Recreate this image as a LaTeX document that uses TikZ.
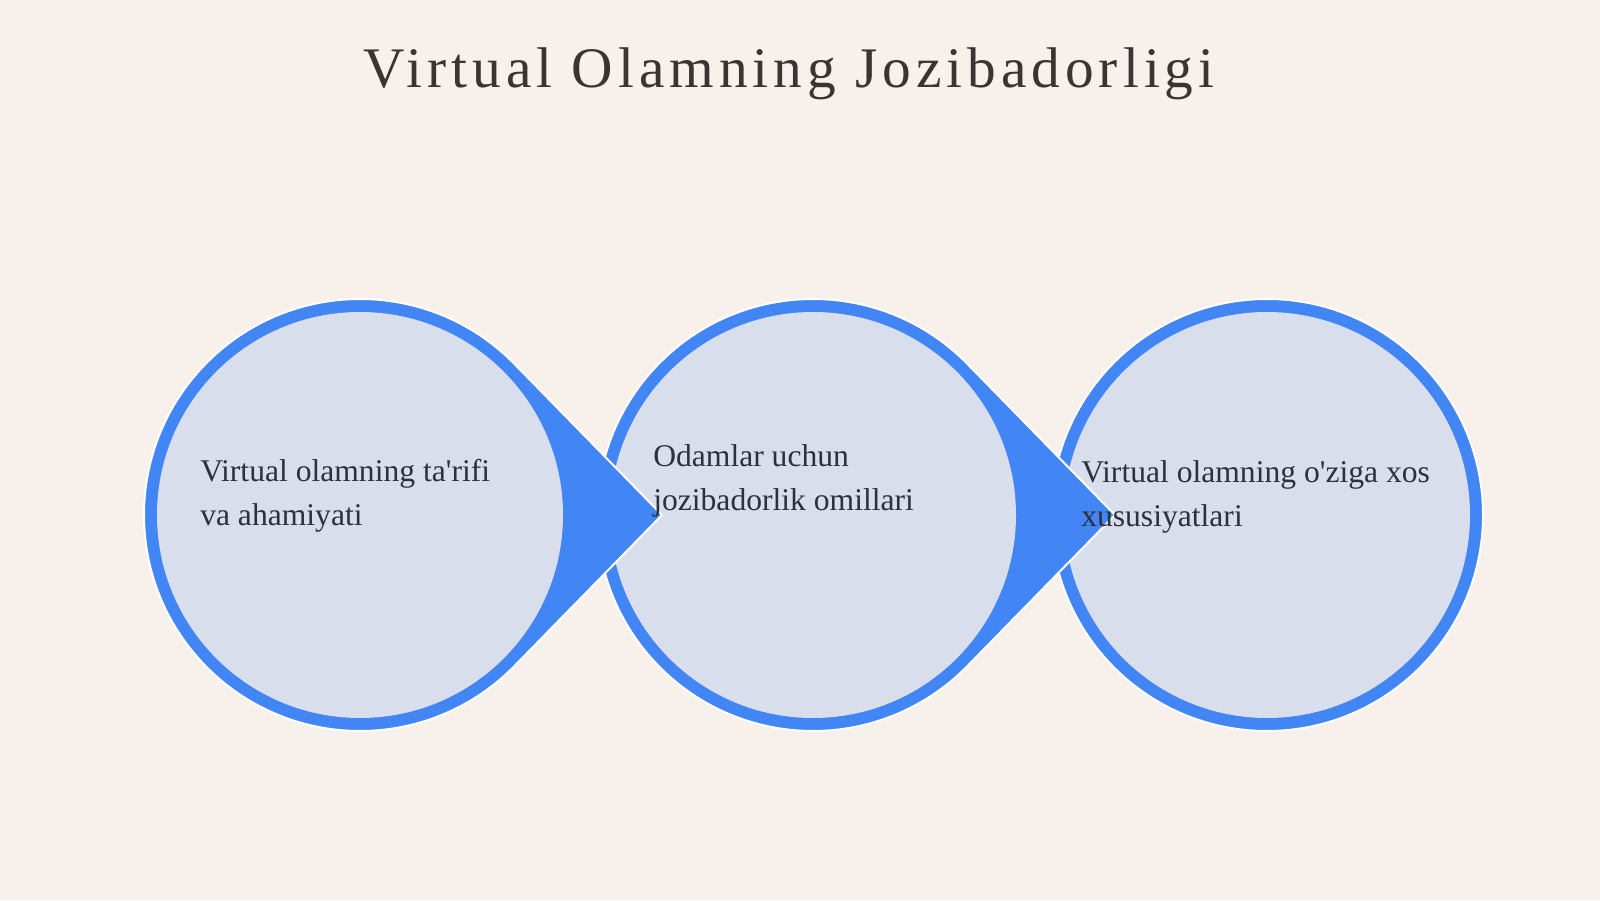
\documentclass[tikz,border=0pt]{standalone}
\usepackage{fontspec}
\setmainfont{Liberation Serif}
\newfontfamily\titlefont[LetterSpace=8.7]{Liberation Serif}
\usetikzlibrary{calc}

\definecolor{bgpaper}{HTML}{F8F0EB}
\definecolor{ringblue}{HTML}{4285F4}
\definecolor{discfill}{HTML}{D8DEEC}
\definecolor{inktext}{HTML}{2E313B}
\definecolor{inktitle}{HTML}{3A3534}

\tikzset{
	steptext/.style={anchor=base west,align=left,inner sep=0pt,text=inktext,font=\fontsize{23.7}{33}\selectfont},
	drop/.style={fill=ringblue,draw=white,line width=1.5pt,line join=miter},
}

\begin{document}
\begin{tikzpicture}[x=0.75pt,y=0.75pt]
				\fill[bgpaper] (0,0) rectangle (1600,900);
				\useasboundingbox (0,0) rectangle (1600,900);

				\node[anchor=base,text=inktitle,font=\titlefont\fontsize{43}{50}\selectfont] (title) at (789,812) {Virtual Olamning Jozibadorligi};

				% drawn right to left so each tip lies over the next disc
				\foreach \cx/\d/\i in {1267/216/3,813/302/2,360/302/1} {
					\pgfmathsetmacro{\a}{acos(216/\d)}
					\coordinate (c\i) at (\cx,385);
					\coordinate (tip\i) at (\cx+\d,385);
					\path[drop] ($(c\i)+(\a:216)$) arc[start angle=\a,end angle=360-\a,radius=216] -- (tip\i) -- cycle;
					\fill[discfill] (c\i) circle[radius=203];
				}

				% base anchor sits on the last line
				\node[steptext] (t1) at (200,374) {Virtual olamning ta\textquotesingle rifi\\va ahamiyati};
				\node[steptext] (t2) at (653,389) {Odamlar uchun\\jozibadorlik omillari};
				\node[steptext] (t3) at (1081,373) {Virtual olamning o\textquotesingle ziga xos\\xususiyatlari};
\end{tikzpicture}
\end{document}
